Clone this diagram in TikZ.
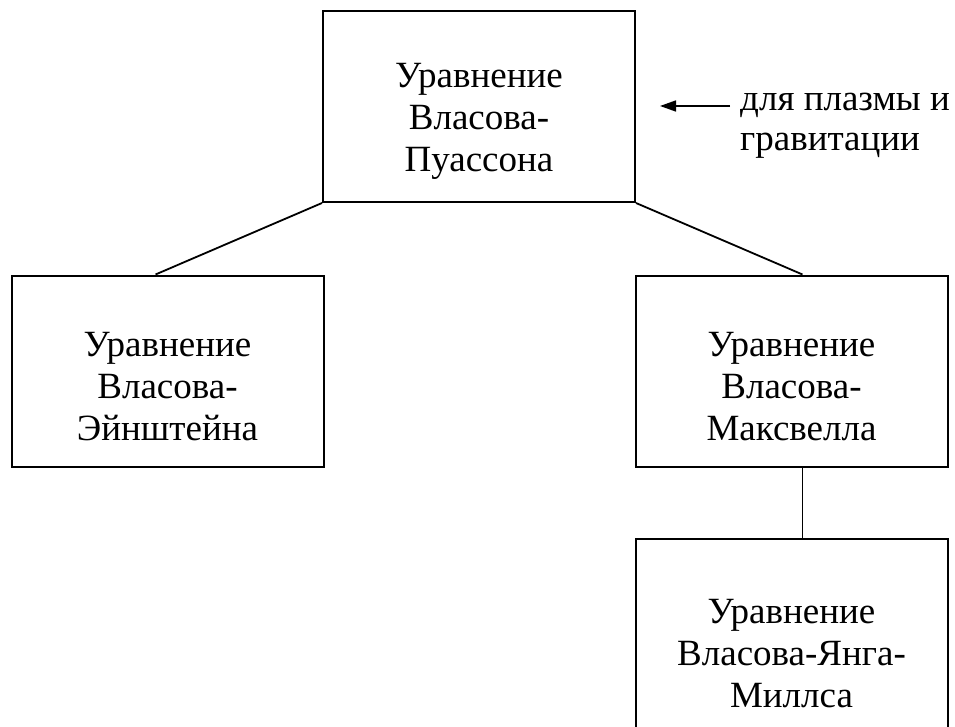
\documentclass[tikz,border=0pt]{standalone}
\usepackage{fontspec}
\setmainfont{Liberation Serif}
\usetikzlibrary{arrows.meta}

\begin{document}
\begin{tikzpicture}[x=1pt,y=-1pt,
		box/.style={draw,line width=2pt,minimum width=312pt,minimum height=191pt,inner sep=0pt},
		txt/.style={align=center,font=\fontsize{37}{42}\selectfont,inner sep=0pt,anchor=base},
		remark/.style={align=left,font=\fontsize{37}{40}\selectfont,inner sep=0pt,anchor=base west},
		link/.style={line width=1.8pt},
		pointer/.style={line width=1.6pt,-{Triangle[length=16pt,width=11pt]}}]
	\useasboundingbox (0,0) rectangle (955,727);
	\node[box] (VP) at (479,106.5) {};
	\node[box] (VE) at (167.5,371) {};
	\node[box] (VM) at (791.5,371) {};
	\node[box] (VYM) at (791.5,634) {};
	\node[txt] (VPtext) at ([yshift=-162pt]VP.north) {Уравнение\\Власова-\\Пуассона};
	\node[txt] (VEtext) at ([yshift=-166pt]VE.north) {Уравнение\\Власова-\\Эйнштейна};
	\node[txt] (VMtext) at ([yshift=-166pt]VM.north) {Уравнение\\Власова-\\Максвелла};
	\node[txt] (VYMtext) at ([yshift=-170pt]VYM.north) {Уравнение\\Власова-Янга-\\Миллса};
	\node[remark] (plasma) at (740,151) {для плазмы и\\гравитации};
	\coordinate (tip) at (660,106);
	\draw[link] (VP.south west) -- ([xshift=-12pt]VE.north);
	\draw[link] (VP.south east) -- ([xshift=11pt]VM.north);
	\draw[link] ([xshift=11pt]VM.south) -- ([xshift=11pt]VYM.north);
	\draw[pointer] ([xshift=-10pt,yshift=45pt]plasma.base west) -- (tip);
\end{tikzpicture}
\end{document}
